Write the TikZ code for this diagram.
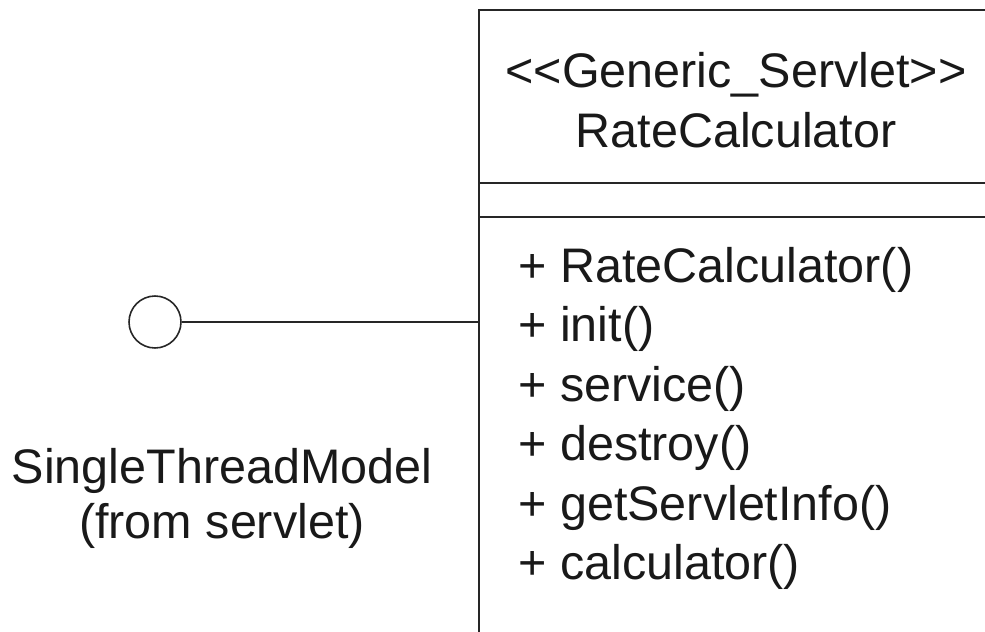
\documentclass[tikz,border=0pt]{standalone}
\usepackage{fontspec}
\setmainfont{Liberation Sans}
\usetikzlibrary{positioning}

\begin{document}
\begin{tikzpicture}[
  umlline/.style={draw=black!85,line width=1.2pt},
  classbox/.style={umlline,rectangle,minimum width=11cm,
                   minimum height=13.5cm,inner sep=0pt},
  iface/.style={draw=black!85,line width=0.9pt,circle,
                minimum size=1.04cm,inner sep=0pt},
  umltext/.style={font=\fontsize{27.6}{33.6}\selectfont,inner sep=0pt,
                  text=black!90}
]
\clip (0,0) rectangle (19.7,-12.62);
\fill[white] (0,0) rectangle (19.7,-12.62);
\node[classbox] (cls) at (15.08,-6.95) {};
\coordinate (div1) at (9.58,-3.66);
\coordinate (div2) at (9.58,-4.34);
\draw[umlline] (div1)--(div1 -| cls.east);
\draw[umlline] (div2)--(div2 -| cls.east);
\node[umltext,align=center,anchor=base] (title) at (14.72,-2.94)
  {<\kern0pt<Generic\_Servlet>\kern0pt>\\RateCalculator};
\foreach \op [count=\k] in {RateCalculator(),init(),service(),destroy(),
                            getServletInfo(),calculator()}
  \node[umltext,anchor=base west] (op\k) at (10.36,{-5.64-1.19*(\k-1)})
    {+ \op};
\node[iface] (port) at (3.1,-6.44) {};
\draw[umlline] (port)--(port -| cls.west);
\node[umltext,font=\fontsize{27.6}{31.3}\selectfont,align=center,
      anchor=base] (portlabel) at (4.44,-10.76)
  {SingleThreadModel\\(from servlet)};
\end{tikzpicture}
\end{document}
